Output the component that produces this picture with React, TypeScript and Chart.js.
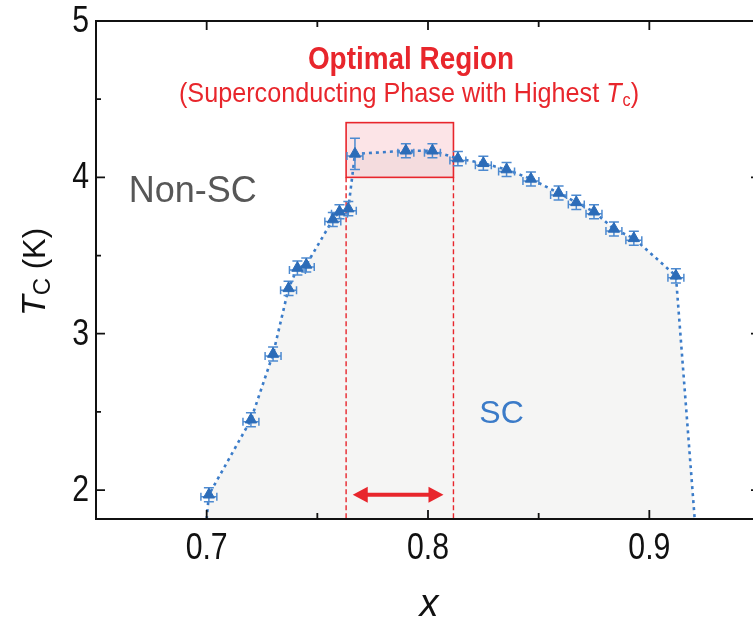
import React, { useEffect, useRef } from "react";
import { Chart, registerables } from "chart.js";

Chart.register(...registerables);

// ---- data ----
const xValues = [0.701, 0.72, 0.73, 0.737, 0.741, 0.745, 0.757, 0.76, 0.764, 0.767, 0.79, 0.802, 0.8135, 0.825, 0.8355, 0.8465, 0.859, 0.867, 0.875, 0.884, 0.893, 0.912];
const tcValues = [1.97, 2.45, 2.87, 3.29, 3.42, 3.44, 3.73, 3.78, 3.8, 4.15, 4.17, 4.17, 4.12, 4.09, 4.05, 3.99, 3.9, 3.84, 3.78, 3.67, 3.61, 3.37];
const xErrors = [0.0036, 0.0036, 0.0036, 0.0036, 0.0036, 0.0036, 0.0036, 0.0036, 0.0036, 0.0036, 0.0036, 0.0036, 0.0036, 0.0036, 0.0036, 0.0036, 0.0036, 0.0036, 0.0036, 0.0036, 0.0036, 0.0036];
const tcErrors = [0.045, 0.045, 0.045, 0.045, 0.045, 0.045, 0.045, 0.045, 0.045, 0.1, 0.045, 0.045, 0.045, 0.045, 0.045, 0.045, 0.045, 0.045, 0.045, 0.045, 0.045, 0.045];
const boundaryStart = { x: 0.7, y: 1.815 };
const boundaryEnd = { x: 0.9205, y: 1.815 };

const xMajorTicks = [0.7, 0.8, 0.9];
const xTickLabels = ["0.7", "0.8", "0.9"];
const xMinorTicks = [0.65, 0.75, 0.85, 0.95];
const yMajorTicks = [2, 3, 4, 5];
const yTickLabels = ["2", "3", "4", "5"];
const yMinorTicks = [2.5, 3.5, 4.5];

const optimalX = [0.763, 0.8115];
const optimalTc = [4.0, 4.35];
const arrowX = [0.766, 0.807];
const arrowTc = 1.97;

const X_MIN = 0.65;
const X_MAX = 0.95;
const Y_MIN = 1.815;
const Y_MAX = 5;

const FONT = "'Liberation Sans', Arial, Helvetica, sans-serif";

const points = xValues.map((x, i) => ({ x, y: tcValues[i] }));
const boundary = [boundaryStart, ...points, boundaryEnd];

function squeezedText(ctx: any, text: string, x: number, y: number, sx: number) {
  ctx.save();
  ctx.translate(x, y);
  ctx.scale(sx, 1);
  ctx.fillText(text, 0, 0);
  ctx.restore();
}

const decorPlugin = {
  id: "decor",
  afterDatasetDraw(chart: any, args: any) {
    if (args.index !== 0) return;
    const ctx = chart.ctx;
    const xs = chart.scales.x;
    const ys = chart.scales.y;
    const l = xs.getPixelForValue(optimalX[0]);
    const r = xs.getPixelForValue(optimalX[1]);
    const t = ys.getPixelForValue(optimalTc[1]);
    const b = ys.getPixelForValue(optimalTc[0]);
    const bottom = chart.chartArea.bottom;
    ctx.save();
    ctx.fillStyle = "rgba(240,120,135,0.2)";
    ctx.fillRect(l, t, r - l, b - t);
    ctx.strokeStyle = "#e8262c";
    ctx.lineWidth = 1.6;
    ctx.strokeRect(l, t, r - l, b - t);
    ctx.setLineDash([5, 3]);
    ctx.lineWidth = 1.4;
    ctx.beginPath();
    ctx.moveTo(l, b);
    ctx.lineTo(l, bottom);
    ctx.moveTo(r, b);
    ctx.lineTo(r, bottom);
    ctx.stroke();
    ctx.restore();
  },
  beforeDatasetDraw(chart: any, args: any) {
    if (args.index !== 2) return;
    const ctx = chart.ctx;
    const xs = chart.scales.x;
    const ys = chart.scales.y;
    ctx.save();
    ctx.strokeStyle = "#4d8ad0";
    ctx.lineWidth = 1.5;
    xValues.forEach((xv, i) => {
      const px = xs.getPixelForValue(xv);
      const py = ys.getPixelForValue(tcValues[i]);
      const x0 = xs.getPixelForValue(xv - xErrors[i]);
      const x1 = xs.getPixelForValue(xv + xErrors[i]);
      const y0 = ys.getPixelForValue(tcValues[i] + tcErrors[i]);
      const y1 = ys.getPixelForValue(tcValues[i] - tcErrors[i]);
      ctx.beginPath();
      ctx.moveTo(x0, py + 2);
      ctx.lineTo(x1, py + 2);
      ctx.moveTo(x0, py - 2);
      ctx.lineTo(x0, py + 6);
      ctx.moveTo(x1, py - 2);
      ctx.lineTo(x1, py + 6);
      ctx.moveTo(px, y0);
      ctx.lineTo(px, y1);
      ctx.moveTo(px - 5, y0);
      ctx.lineTo(px + 5, y0);
      ctx.moveTo(px - 5, y1);
      ctx.lineTo(px + 5, y1);
      ctx.stroke();
    });
    ctx.restore();
  },
  afterDraw(chart: any) {
    const ctx = chart.ctx;
    const xs = chart.scales.x;
    const ys = chart.scales.y;
    const { left, right, top, bottom } = chart.chartArea;
    ctx.save();
    // frame
    ctx.strokeStyle = "#111";
    ctx.lineWidth = 2;
    ctx.strokeRect(left, top, right - left, bottom - top);
    ctx.lineWidth = 1.8;
    ctx.beginPath();
    const drawX = (v: number, len: number) => {
      const p = xs.getPixelForValue(v);
      ctx.moveTo(p, bottom);
      ctx.lineTo(p, bottom - len);
      ctx.moveTo(p, top);
      ctx.lineTo(p, top + len);
    };
    const drawY = (v: number, len: number) => {
      const p = ys.getPixelForValue(v);
      ctx.moveTo(left, p);
      ctx.lineTo(left + len, p);
      ctx.moveTo(right, p);
      ctx.lineTo(right - len, p);
    };
    xMajorTicks.forEach((v) => drawX(v, 9));
    xMinorTicks.forEach((v) => drawX(v, 6));
    yMajorTicks.forEach((v) => drawY(v, 9));
    yMinorTicks.forEach((v) => drawY(v, 5));
    ctx.stroke();

    // tick labels (condensed look)
    ctx.fillStyle = "#111";
    ctx.font = `36px ${FONT}`;
    ctx.textBaseline = "middle";
    ctx.textAlign = "center";
    xMajorTicks.forEach((v, i) => squeezedText(ctx, xTickLabels[i], xs.getPixelForValue(v), bottom + 30, 0.84));
    ctx.textAlign = "right";
    yMajorTicks.forEach((v, i) => squeezedText(ctx, yTickLabels[i], left - 7, ys.getPixelForValue(v) + 1, 0.84));

    // arrow
    const ax0 = xs.getPixelForValue(arrowX[0]);
    const ax1 = xs.getPixelForValue(arrowX[1]);
    const ay = ys.getPixelForValue(arrowTc);
    ctx.strokeStyle = "#e8262c";
    ctx.fillStyle = "#e8262c";
    ctx.lineWidth = 4;
    ctx.beginPath();
    ctx.moveTo(ax0 + 10, ay);
    ctx.lineTo(ax1 - 10, ay);
    ctx.stroke();
    ctx.beginPath();
    ctx.moveTo(ax0, ay);
    ctx.lineTo(ax0 + 15, ay - 8);
    ctx.lineTo(ax0 + 15, ay + 8);
    ctx.closePath();
    ctx.moveTo(ax1, ay);
    ctx.lineTo(ax1 - 15, ay - 8);
    ctx.lineTo(ax1 - 15, ay + 8);
    ctx.closePath();
    ctx.fill();

    // titles in red
    ctx.fillStyle = "#e8262c";
    ctx.textAlign = "center";
    ctx.textBaseline = "alphabetic";
    ctx.font = `bold 31px ${FONT}`;
    squeezedText(ctx, "Optimal Region", 411, 69, 0.9);

    const partA = "(Superconducting Phase with Highest ";
    const partT = "T";
    const partC = "c";
    const partE = ")";
    const sq = 0.9;
    const f1 = `28px ${FONT}`;
    const fI = `italic 28px ${FONT}`;
    const fS = `18px ${FONT}`;
    ctx.font = f1;
    const wA = ctx.measureText(partA).width * sq;
    const wE = ctx.measureText(partE).width * sq;
    ctx.font = fI;
    const wT = ctx.measureText(partT).width * sq;
    ctx.font = fS;
    const wC = ctx.measureText(partC).width * sq;
    const total = wA + wT + wC + wE + 1;
    let cx = 409 - total / 2;
    const by = 102;
    ctx.textAlign = "left";
    ctx.font = f1;
    squeezedText(ctx, partA, cx, by, sq);
    cx += wA;
    ctx.font = fI;
    squeezedText(ctx, partT, cx, by, sq);
    cx += wT + 1;
    ctx.font = fS;
    squeezedText(ctx, partC, cx, by + 4, sq);
    cx += wC;
    ctx.font = f1;
    squeezedText(ctx, partE, cx, by, sq);

    // region labels
    ctx.font = `36px ${FONT}`;
    ctx.fillStyle = "#575757";
    ctx.fillText("Non-SC", xs.getPixelForValue(0.6648), ys.getPixelForValue(3.845));
    ctx.font = `32px ${FONT}`;
    ctx.fillStyle = "#3b7bc8";
    ctx.fillText("SC", xs.getPixelForValue(0.8232), ys.getPixelForValue(2.43));

    // axis titles
    ctx.fillStyle = "#111";
    ctx.font = `italic 38px ${FONT}`;
    ctx.textAlign = "center";
    ctx.fillText("x", 429, 616);

    ctx.save();
    ctx.translate(45, 272);
    ctx.rotate(-Math.PI / 2);
    const tF = `italic 34px ${FONT}`;
    const sF = `24px ${FONT}`;
    const kF = `31px ${FONT}`;
    ctx.font = tF;
    const w1 = ctx.measureText("T").width;
    ctx.font = sF;
    const w2 = ctx.measureText("C").width;
    ctx.font = kF;
    const w3 = ctx.measureText(" (K)").width;
    let sx = -(w1 + w2 + w3) / 2;
    ctx.textAlign = "left";
    ctx.font = tF;
    ctx.fillText("T", sx, 0);
    sx += w1;
    ctx.font = sF;
    ctx.fillText("C", sx, 5);
    sx += w2;
    ctx.font = kF;
    ctx.fillText(" (K)", sx, 0);
    ctx.restore();

    ctx.restore();
  },
};

export default function App() {
  const ref = useRef<HTMLCanvasElement>(null);
  useEffect(() => {
    if (!ref.current) return;
    const chart = new Chart(ref.current, {
      type: "line",
      data: {
        datasets: [
          {
            data: boundary,
            fill: "start",
            backgroundColor: "#f5f5f4",
            borderColor: "rgba(0,0,0,0)",
            borderWidth: 0,
            pointRadius: 0,
            order: 3,
          },
          {
            data: boundary,
            fill: false,
            borderColor: "#3b7cc9",
            borderWidth: 2.6,
            borderDash: [3, 4],
            pointRadius: 0,
            order: 2,
          },
          {
            data: points,
            showLine: false,
            pointStyle: "triangle",
            pointRadius: 6.5,
            pointBackgroundColor: "#2c6cb8",
            pointBorderColor: "#2c6cb8",
            pointBorderWidth: 1,
            order: 1,
          },
        ],
      },
      options: {
        animation: false,
        responsive: false,
        events: [],
        layout: { padding: { top: 21, right: 10, left: 0, bottom: 0 } },
        plugins: { legend: { display: false }, tooltip: { enabled: false } },
        scales: {
          x: {
            type: "linear",
            min: X_MIN,
            max: X_MAX,
            grid: { display: false, drawTicks: false },
            border: { display: false },
            afterBuildTicks: (axis: any) => {
              axis.ticks = xMajorTicks.map((v) => ({ value: v }));
            },
            afterFit: (axis: any) => {
              axis.height = 104;
            },
            ticks: { display: false },
          },
          y: {
            type: "linear",
            min: Y_MIN,
            max: Y_MAX,
            grid: { display: false, drawTicks: false },
            border: { display: false },
            afterBuildTicks: (axis: any) => {
              axis.ticks = yMajorTicks.map((v) => ({ value: v }));
            },
            afterFit: (axis: any) => {
              axis.width = 96;
            },
            ticks: { display: false },
          },
        },
      },
      plugins: [decorPlugin],
    });
    return () => chart.destroy();
  }, []);
  return (
    <div style={{ position: "absolute", left: 0, top: 0, width: 753, height: 623, overflow: "hidden", background: "#fff" }}>
      <canvas ref={ref} width={770} height={623} style={{ display: "block", width: 770, height: 623 }} />
    </div>
  );
}
